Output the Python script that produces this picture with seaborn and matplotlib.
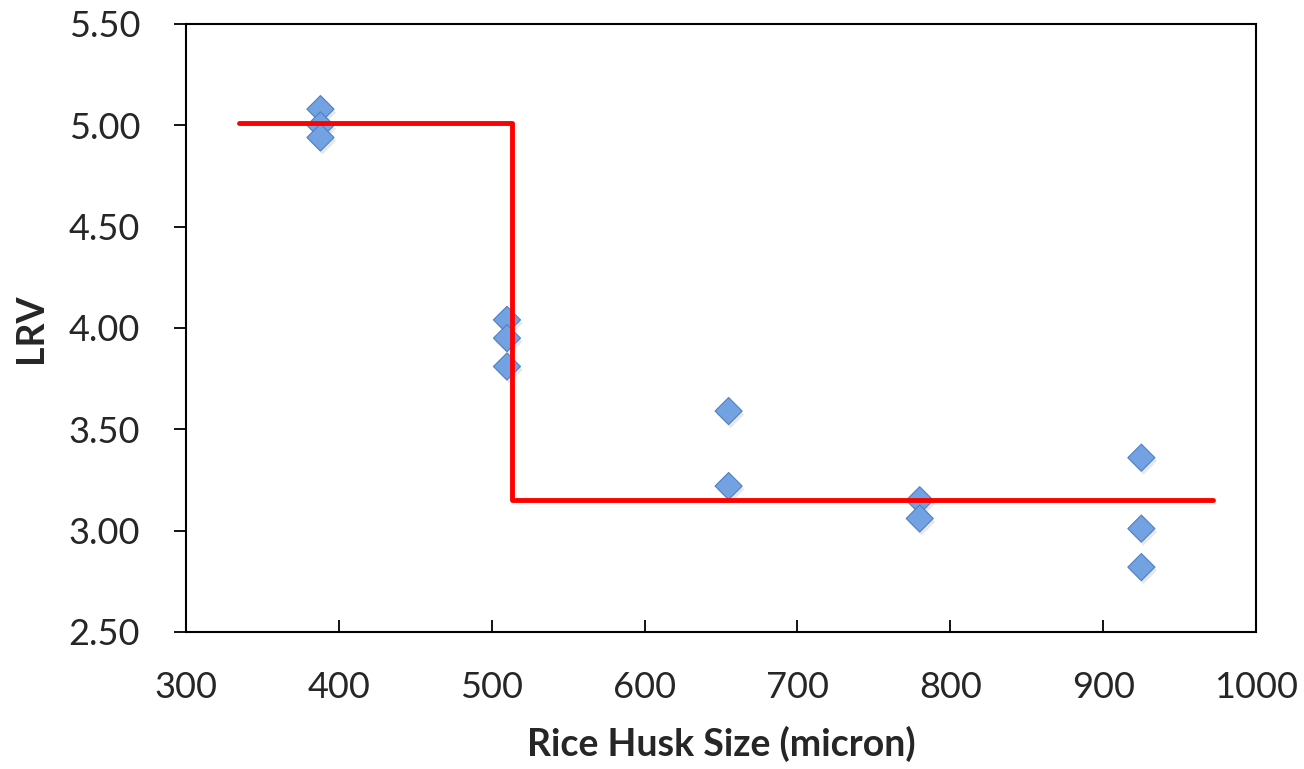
import matplotlib
matplotlib.use("Agg")
import matplotlib.pyplot as plt
import matplotlib.patheffects as pe
import seaborn as sns
import pandas as pd

# Measured LRV for each rice husk particle size
husk_size = [388, 388, 388, 510, 510, 510, 655, 655, 780, 780, 925, 925, 925]
lrv = [5.08, 5.00, 4.94, 4.04, 3.95, 3.81, 3.59, 3.22, 3.15, 3.06, 3.36, 3.01, 2.82]

# Step trend line (mean level below and above the threshold size)
step_x = [335, 513, 513, 972]
step_y = [5.01, 5.01, 3.15, 3.15]

x_ticks = [300, 400, 500, 600, 700, 800, 900, 1000]
y_ticks = [2.50, 3.00, 3.50, 4.00, 4.50, 5.00, 5.50]

sns.set_theme(style="white")
plt.rcParams["font.family"] = ["Lato", "DejaVu Sans"]

fig = plt.figure(figsize=(13.04, 7.69), dpi=100)
ax = fig.add_axes([0.1426, 0.1782, 0.8206, 0.7906])

df = pd.DataFrame({"size": husk_size, "lrv": lrv})
sns.scatterplot(data=df, x="size", y="lrv", marker="D", s=190,
                color="#72a2e2", edgecolor="#4f80c4", linewidth=0.8,
                ax=ax, zorder=3, legend=False)
for coll in ax.collections:
    coll.set_path_effects([pe.SimplePatchShadow(offset=(1.5, -2.5), alpha=0.18,
                                                shadow_rgbFace="gray"),
                           pe.Normal()])

sns.lineplot(x=step_x, y=step_y, sort=False, estimator=None,
             color="#ff0000", linewidth=3.5, ax=ax, zorder=4)

ax.set_xlim(300, 1000)
ax.set_ylim(2.5, 5.5)
ax.set_xticks(x_ticks)
ax.set_yticks(y_ticks)
ax.set_xticklabels([str(v) for v in x_ticks])
ax.set_yticklabels([f"{v:.2f}" for v in y_ticks])

for side in ["left", "bottom", "top", "right"]:
    ax.spines[side].set_color("black")
    ax.spines[side].set_linewidth(1.5)

ax.tick_params(axis="y", which="major", direction="out", length=9,
               width=1.3, color="black", labelsize=26, pad=24, left=True)
ax.tick_params(axis="x", which="major", direction="in", length=9,
               width=1.3, color="black", labelsize=26, pad=28, bottom=True)

ax.set_xlabel("Rice Husk Size (micron)", fontsize=27, fontweight="bold", labelpad=16)
ax.set_ylabel("LRV", fontsize=27, fontweight="bold", labelpad=15)
ax.grid(False)

fig.savefig("out.png", dpi=100)
